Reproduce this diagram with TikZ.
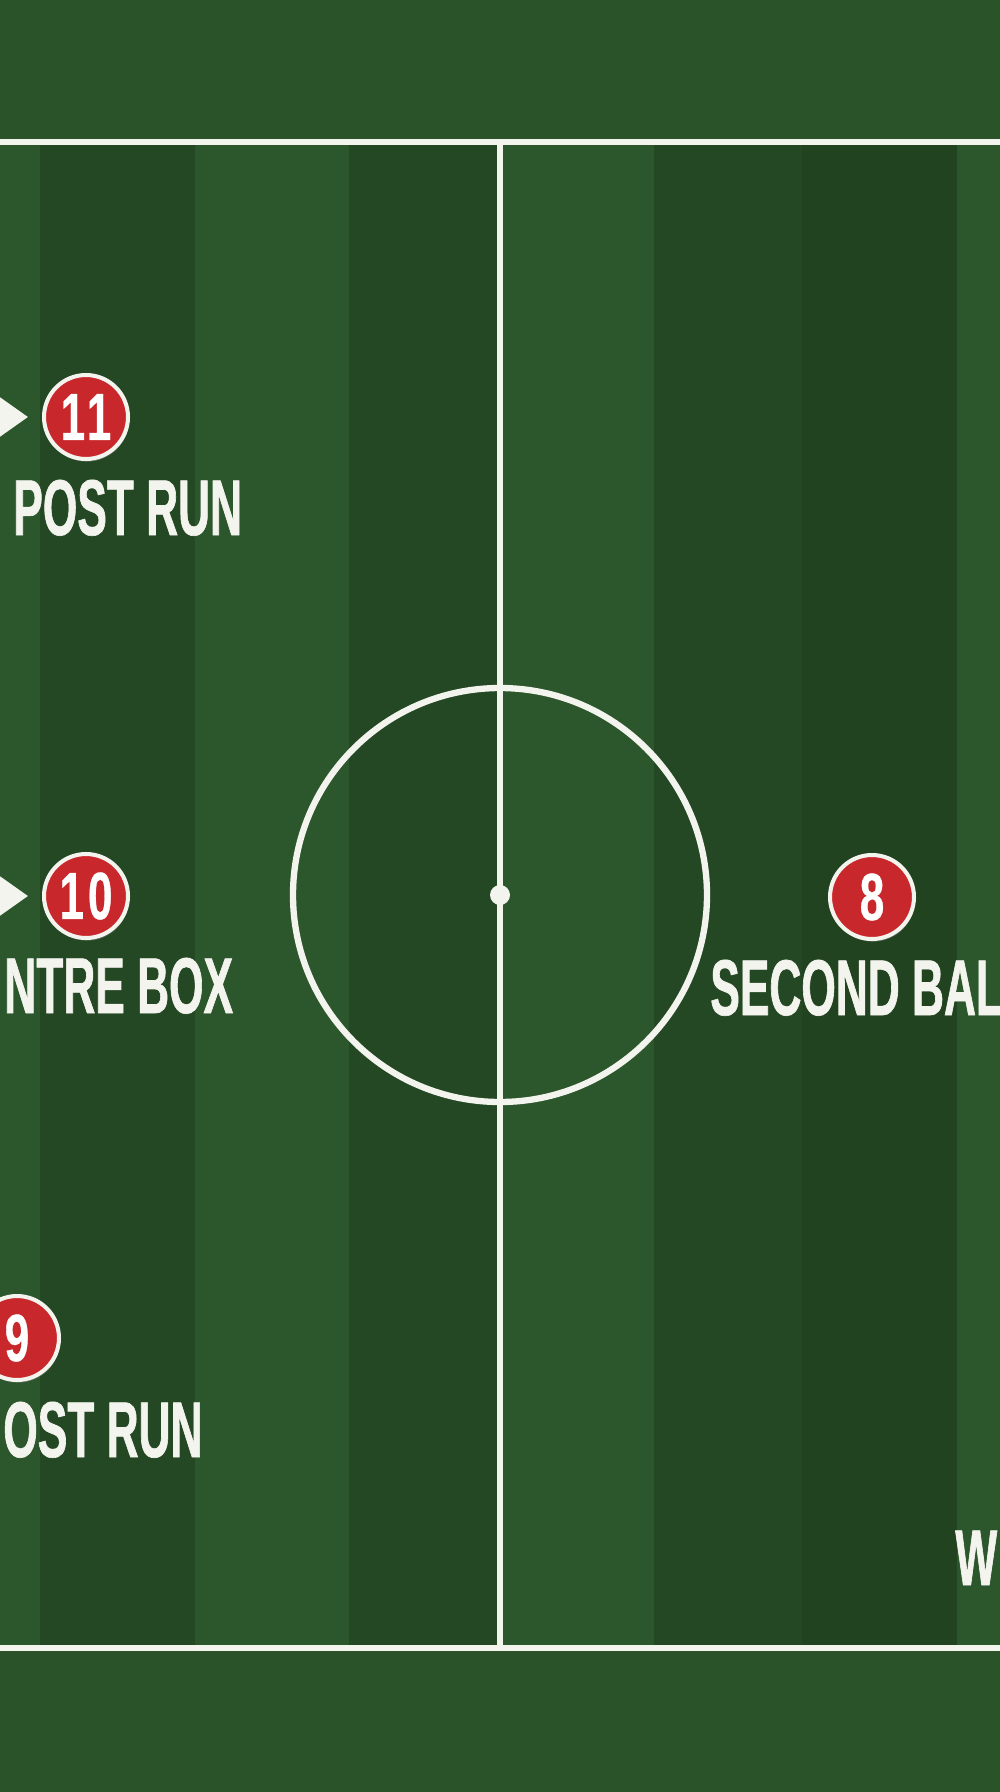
\documentclass[tikz,border=0pt]{standalone}
\usepackage{fontspec}
\usepackage{xcolor}
\usepackage{tikz}
\usetikzlibrary{positioning}
\usetikzlibrary{arrows.meta}
\usetikzlibrary{shadows}

\newfontfamily\pitchfont{Liberation Sans}[FakeStretch=0.56, BoldFeatures={FakeBold=0.8}]
\newfontfamily\kitfont{Liberation Sans}[FakeStretch=0.66, LetterSpace=6, BoldFeatures={FakeBold=0.5}]

\definecolor{bandgreen}{HTML}{2A532A}
\definecolor{lightstripe}{HTML}{2C562B}
\definecolor{darkstripe}{HTML}{244823}
\definecolor{darkerstripe}{HTML}{21431F}
\definecolor{shirtred}{HTML}{C8282B}
\definecolor{chalk}{HTML}{F4F4EF}

\tikzset{
  pitchline/.style={chalk, line width=3.6pt},
  shirt/.style={circle, fill=shirtred, draw=chalk, line width=2.3pt, minimum size=1.68cm, inner sep=0pt,
    text=white, font=\kitfont\bfseries\fontsize{38}{38}\selectfont,
    drop shadow={shadow xshift=0.6pt, shadow yshift=-1.5pt, opacity=0.6}},
  role/.style={anchor=base west, inner sep=0pt, text=chalk, font=\pitchfont\bfseries\fontsize{45}{45}\selectfont},
  runarrow/.style={chalk, line width=3.4pt, -{Triangle[length=0.8cm, width=1.1cm]}, shorten >=0.28cm}
}

\begin{document}
\begin{tikzpicture}[x=0.02cm, y=-0.02cm]  % one unit is one pixel of the 1000 x 1792 frame
    % Frame and grass
    \useasboundingbox (0,0) rectangle (1000,1792);
    \clip (0,0) rectangle (1000,1792);
    \fill[bandgreen] (0,0) rectangle (1000,1792);

    % Mowing stripes between the lines
    \foreach \xa/\xb/\tone in {0/40/lightstripe, 40/195/darkstripe, 195/349/lightstripe, 349/500/darkstripe,
                               500/654/lightstripe, 654/802/darkstripe, 802/957/darkerstripe, 957/1000/lightstripe}
        \fill[\tone] (\xa,142) rectangle (\xb,1648);

    % Touchlines and halfway line
    \draw[pitchline] (0,142) -- (1000,142);
    \draw[pitchline] (0,1648) -- (1000,1648);
    \draw[pitchline] (500,142) -- (500,1648);

    % Centre circle and spot
    \draw[pitchline] (500,895) circle[radius=207];
    \fill[chalk] (500,895) circle[radius=10];

    % Players
    \node[shirt] (p11) at (86,417) {11};
    \node[shirt] (p10) at (86,896) {10};
    \node[shirt] (p9) at (17,1338) {9};
    \node[shirt] (p8) at (872,897) {8};

    % Runs coming in from the left
    \coordinate (from11) at (-150,417);
    \coordinate (from10) at (-150,896);
    \draw[runarrow] (from11) -- (p11);
    \draw[runarrow] (from10) -- (p10);

    % Jobs
    \node[role] (job11) at (13,535) {POST RUN};
    \node[role] (job10) at (4,1013) {NTRE BOX};
    \node[role] (job9) at (3,1457) {OST RUN};
    \node[role] (job8) at (710,1015) {SECOND BAL};
    \node[role] (jobw) at (955,1585) {W};
\end{tikzpicture}
\end{document}
